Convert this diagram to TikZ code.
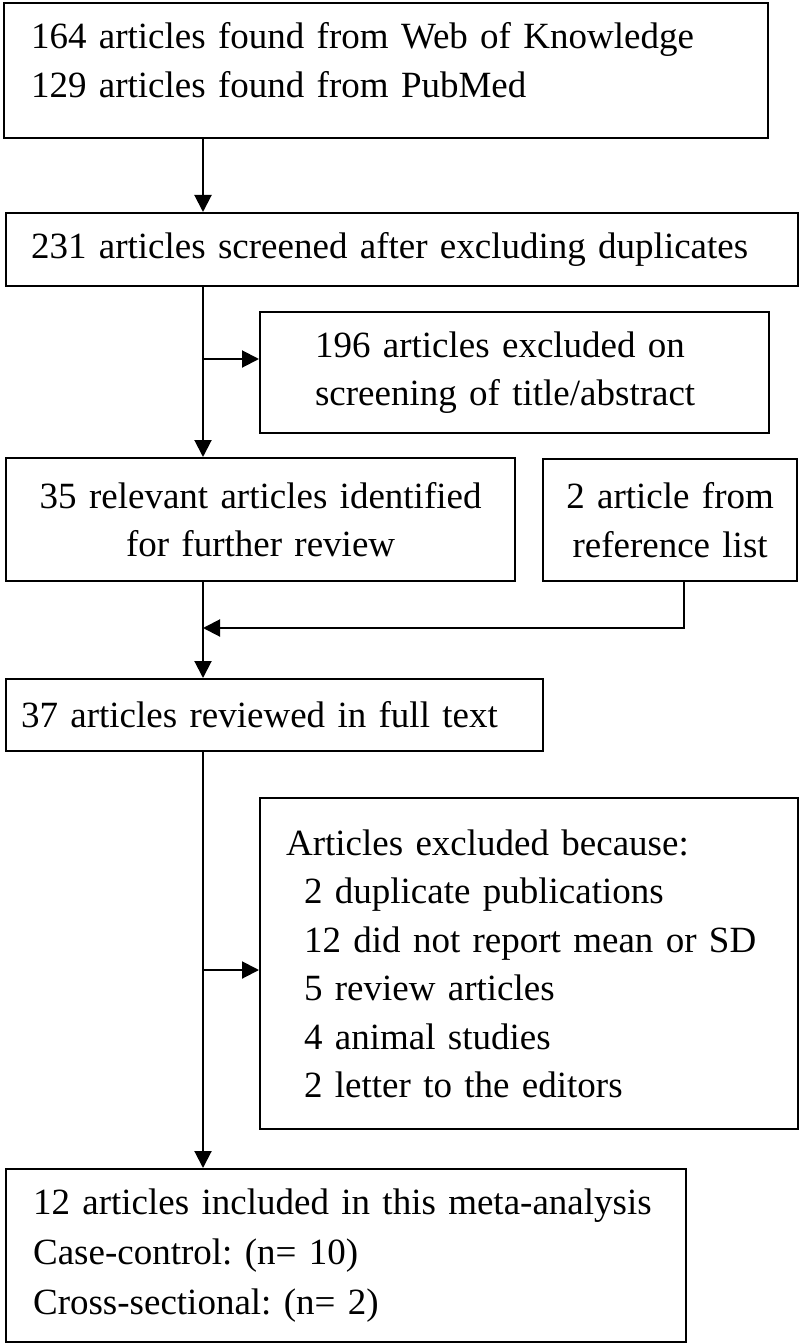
\documentclass[tikz,border=0pt]{standalone}
\usepackage{fontspec}
\setmainfont{Liberation Serif}
\usetikzlibrary{arrows.meta,positioning}
\frenchspacing

\begin{document}
\begin{tikzpicture}[x=1pt,y=-1pt,
    box/.style={draw,line width=2.2pt,anchor=north west,inner sep=0pt,
      font=\fontsize{37}{48.5}\selectfont},
    arr/.style={-{Triangle[length=17pt,width=17pt]},line width=2pt}]
  \useasboundingbox (0,0) rectangle (800,1343);
  \coordinate (spine) at (203,0);
  \node[box,minimum width=764,minimum height=135,text width=710,align=left,text depth=70pt] (found) at (3,2)
    {164 articles found from Web of Knowledge\\129 articles found from PubMed};
  \node[box,minimum width=792,minimum height=73,text width=742,align=left] (screened) at (5,212)
    {231 articles screened after excluding duplicates};
  \node[box,minimum width=509,minimum height=121,text width=399,align=left] (titleabs) at (259,311)
    {196 articles excluded on\\screening of title/abstract};
  \node[box,minimum width=509,minimum height=123,text width=470,align=center] (relevant) at (5,457)
    {35 relevant articles identified\\for further review};
  \node[box,minimum width=254,minimum height=122,text width=230,align=center] (reflist) at (542,458)
    {2 article from\\reference list};
  \node[box,minimum width=537,minimum height=72,text width=507,align=left] (fulltext) at (5,678)
    {37 articles reviewed in full text};
  \node[box,minimum width=538,minimum height=331,text width=486,align=left] (reasons) at (259,797)
    {Articles excluded because:\\
     \hspace*{18pt}2 duplicate publications\\
     \hspace*{18pt}12 did not report mean or SD\\
     \hspace*{18pt}5 review articles\\
     \hspace*{18pt}4 animal studies\\
     \hspace*{18pt}2 letter to the editors};
  \node[box,minimum width=680,minimum height=173,text width=626,align=left,
    font=\fontsize{37}{50}\selectfont] (included) at (5,1168)
    {12 articles included in this meta-analysis\\Case-control: (n= 10)\\Cross-sectional: (n= 2)};
  % connectors
  \draw[arr] (found.south -| spine) -- (screened.north -| spine);
  \draw[arr] (screened.south -| spine) -- (relevant.north -| spine);
  \coordinate (b1) at (203,359);
  \draw[arr] (b1) -- (b1 -| titleabs.west);
  \coordinate (refjoin) at (684,628);
  \draw[arr] (reflist.south -| refjoin) |- (spine |- refjoin);
  \draw[arr] (relevant.south -| spine) -- (fulltext.north -| spine);
  \draw[arr] (fulltext.south -| spine) -- (included.north -| spine);
  \coordinate (b2) at (203,970);
  \draw[arr] (b2) -- (b2 -| reasons.west);
\end{tikzpicture}
\end{document}
